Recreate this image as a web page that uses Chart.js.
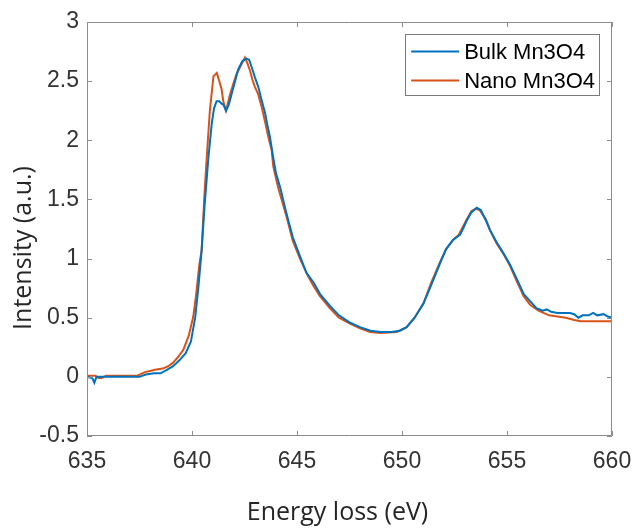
<!DOCTYPE html>
<html>
<head>
<meta charset="utf-8">
<script src="https://cdn.jsdelivr.net/npm/chart.js@4.4.1/dist/chart.umd.min.js"></script>
<style>
    html, body { margin: 0; padding: 0; background: #fff; }
    #wrap { width: 633px; height: 531px; position: relative; }
</style>
</head>
<body>
<div id="wrap"><canvas id="eelsChart"></canvas></div>
<script>
// Energy loss (eV) and intensity (a.u.)
const bulkEnergy = [635, 635.25, 635.35, 635.45, 636, 637, 637.5, 637.8, 638.2, 638.5, 638.8, 639.1, 639.4, 639.7, 639.95,
    640.15, 640.3, 640.45, 640.6, 640.78, 640.94, 641.05, 641.17, 641.3, 641.41, 641.5, 641.62, 641.75, 641.9, 642.05,
    642.2, 642.4, 642.6, 642.72, 642.84, 643.0, 643.16, 643.3, 643.48, 643.6, 643.71, 643.87, 644.0, 644.2, 644.5,
    644.8, 645.14, 645.45, 645.78, 646.1, 646.57, 647.0, 647.5, 648.0, 648.5, 649.0, 649.5, 649.9, 650.22, 650.6,
    651.02, 651.4, 651.81, 652.1, 652.44, 652.76, 652.9, 653.08, 653.3, 653.56, 653.75, 654.0, 654.19, 654.5, 654.83,
    655.14, 655.46, 655.8, 656.1, 656.4, 656.7, 656.9, 657.1, 657.4, 657.7, 658.0, 658.2, 658.4, 658.6, 658.9,
    659.1, 659.3, 659.6, 659.8, 660];
const bulkIntensity = [0, -0.01, -0.05, 0, 0, 0, 0, 0.02, 0.03, 0.03, 0.06, 0.09, 0.14, 0.2, 0.3,
    0.5, 0.75, 1.05, 1.45, 1.85, 2.14, 2.27, 2.33, 2.33, 2.31, 2.3, 2.25, 2.3, 2.4, 2.5,
    2.6, 2.67, 2.69, 2.68, 2.62, 2.53, 2.45, 2.35, 2.23, 2.12, 2.03, 1.85, 1.72, 1.6, 1.38,
    1.18, 1.02, 0.88, 0.8, 0.7, 0.6, 0.52, 0.46, 0.42, 0.39, 0.38, 0.38, 0.39, 0.42, 0.5,
    0.62, 0.78, 0.96, 1.08, 1.16, 1.2, 1.25, 1.32, 1.39, 1.43, 1.41, 1.32, 1.24, 1.14, 1.045,
    0.95, 0.83, 0.7, 0.64, 0.58, 0.56, 0.57, 0.55, 0.54, 0.54, 0.54, 0.53, 0.5, 0.52, 0.52,
    0.54, 0.52, 0.53, 0.51, 0.5];

const nanoEnergy = [635, 635.4, 635.55, 635.7, 635.9, 636.5, 637.4, 637.76, 638.0, 638.24, 638.6, 638.87, 639.1, 639.35, 639.59,
    639.85, 640.06, 640.2, 640.35, 640.46, 640.58, 640.7, 640.85, 641.02, 641.18, 641.3, 641.41, 641.49, 641.62, 641.8,
    641.97, 642.1, 642.29, 642.52, 642.64, 642.76, 642.88, 643.0, 643.15, 643.32, 643.5, 643.63, 643.79, 643.87, 644.1,
    644.51, 644.8, 645.14, 645.5, 645.78, 646.1, 646.57, 647.0, 647.52, 648.0, 648.48, 649.0, 649.75, 650.22, 650.6,
    651.02, 651.4, 651.81, 652.1, 652.44, 652.7, 652.9, 653.08, 653.3, 653.5, 653.7, 654.0, 654.19, 654.5, 654.83,
    655.14, 655.46, 655.8, 656.1, 656.5, 657.0, 657.4, 657.8, 658.2, 658.5, 659, 660];
const nanoIntensity = [0.01, 0.01, -0.01, -0.01, 0.01, 0.01, 0.01, 0.04, 0.05, 0.06, 0.07, 0.09, 0.12, 0.17, 0.23,
    0.35, 0.51, 0.7, 0.95, 1.07, 1.5, 1.85, 2.25, 2.54, 2.57, 2.5, 2.43, 2.33, 2.25, 2.38,
    2.48, 2.55, 2.62, 2.7, 2.65, 2.59, 2.51, 2.45, 2.39, 2.28, 2.14, 2.03, 1.92, 1.78, 1.6,
    1.35, 1.15, 1.0, 0.86, 0.77, 0.68, 0.58, 0.5, 0.45, 0.41, 0.38, 0.37, 0.38, 0.42, 0.5,
    0.62, 0.8, 0.97, 1.08, 1.16, 1.2, 1.27, 1.33, 1.4, 1.42, 1.41, 1.33, 1.24, 1.13, 1.04,
    0.94, 0.81, 0.68, 0.61, 0.56, 0.52, 0.51, 0.5, 0.48, 0.47, 0.47, 0.47];

const seriesLabels = ['Bulk Mn3O4', 'Nano Mn3O4'];
const xTicks = [635, 640, 645, 650, 655, 660];
const yTicks = [-0.5, 0, 0.5, 1, 1.5, 2, 2.5, 3];

function toPoints(xs, ys) {
    return xs.map(function(x, i) { return { x: x, y: ys[i] }; });
}

const axisGray = '#8c8c8c';
const tickFont = { family: 'Liberation Sans, Arial, sans-serif', size: 23 };

// MATLAB style box with inward ticks on all four sides, plus axis titles
const boxPlugin = {
    id: 'matlabBox',
    afterDatasetsDraw: function(chart) {
        const ctx = chart.ctx, a = chart.chartArea;
        const xs = chart.scales.x, ys = chart.scales.y;
        const len = 5;
        ctx.save();
        ctx.strokeStyle = axisGray;
        ctx.lineWidth = 1;
        ctx.beginPath();
        ctx.rect(a.left + 0.5, a.top + 0.5, a.right - a.left - 1, a.bottom - a.top - 1);
        xTicks.forEach(function(v) {
            const px = Math.round(xs.getPixelForValue(v)) + 0.5;
            ctx.moveTo(px, a.bottom); ctx.lineTo(px, a.bottom - len);
            ctx.moveTo(px, a.top); ctx.lineTo(px, a.top + len);
        });
        yTicks.forEach(function(v) {
            const py = Math.round(ys.getPixelForValue(v)) + 0.5;
            ctx.moveTo(a.left, py); ctx.lineTo(a.left + len, py);
            ctx.moveTo(a.right, py); ctx.lineTo(a.right - len, py);
        });
        ctx.stroke();

        // axis titles
        ctx.fillStyle = '#262626';
        ctx.font = '25px "Open Sans", sans-serif';
        ctx.textAlign = 'center';
        ctx.textBaseline = 'middle';
        ctx.fillText('Energy loss (eV)', a.left + (a.right - a.left) / 2 - 12, 513);
        ctx.translate(24, a.top + (a.bottom - a.top) / 2 + 19);
        ctx.rotate(-Math.PI / 2);
        ctx.fillText('Intensity (a.u.)', 0, 0);
        ctx.restore();
    }
};

// legend box in the upper right corner of the axes
const legendPlugin = {
    id: 'boxLegend',
    afterDraw: function(chart) {
        const ctx = chart.ctx, a = chart.chartArea;
        ctx.save();
        ctx.font = '22px "Liberation Sans", Arial, sans-serif';
        const textW = Math.max.apply(null, chart.data.datasets.map(function(d) { return ctx.measureText(d.label).width; }));
        const lineLen = 48, padL = 6, gap = 5, padR = 4, rowH = 29;
        const w = padL + lineLen + gap + textW + padR;
        const h = 61;
        const right = a.right - 13, top = a.top + 12;
        const left = right - w;
        ctx.fillStyle = '#fff';
        ctx.fillRect(left, top, w, h);
        ctx.strokeStyle = '#7a7a7a';
        ctx.lineWidth = 1;
        ctx.strokeRect(Math.round(left) + 0.5, top + 0.5, Math.round(w), h);
        ctx.textBaseline = 'middle';
        ctx.textAlign = 'left';
        chart.data.datasets.forEach(function(d, i) {
            const cy = top + 17.5 + i * rowH;
            ctx.strokeStyle = d.borderColor;
            ctx.lineWidth = 2;
            ctx.beginPath();
            ctx.moveTo(left + padL, cy);
            ctx.lineTo(left + padL + lineLen, cy);
            ctx.stroke();
            ctx.fillStyle = '#000';
            ctx.fillText(d.label, left + padL + lineLen + gap, cy + 1);
        });
        ctx.restore();
    }
};

var ctx = document.getElementById('eelsChart').getContext('2d');
new Chart(ctx, {
    type: 'line',
    data: {
        datasets: [{
            label: seriesLabels[0],
            data: toPoints(bulkEnergy, bulkIntensity),
            borderColor: '#0072BD',
            borderWidth: 2,
            pointRadius: 0,
            tension: 0,
            fill: false
        }, {
            label: seriesLabels[1],
            data: toPoints(nanoEnergy, nanoIntensity),
            borderColor: '#D95319',
            borderWidth: 2,
            pointRadius: 0,
            tension: 0,
            fill: false
        }]
    },
    options: {
        responsive: true,
        maintainAspectRatio: false,
        animation: false,
        layout: { padding: { left: 0, top: 22, right: 21, bottom: 0 } },
        scales: {
            x: {
                type: 'linear',
                min: 635,
                max: 660,
                afterBuildTicks: function(scale) { scale.ticks = xTicks.map(function(v) { return { value: v }; }); },
                afterFit: function(scale) {
                    scale.height = 95;
                    scale.paddingLeft = 0;
                    scale.paddingRight = 0;
                },
                ticks: { font: tickFont, color: '#333', padding: 12, maxRotation: 0 },
                grid: { display: false, drawTicks: false },
                border: { display: false }
            },
            y: {
                min: -0.5,
                max: 3,
                afterBuildTicks: function(scale) { scale.ticks = yTicks.map(function(v) { return { value: v }; }); },
                afterFit: function(scale) {
                    scale.width = 87;
                    scale.paddingTop = 0;
                    scale.paddingBottom = 0;
                },
                ticks: {
                    font: tickFont,
                    color: '#333',
                    padding: 8,
                    callback: function(value) { return String(value); }
                },
                grid: { display: false, drawTicks: false },
                border: { display: false }
            }
        },
        plugins: {
            legend: { display: false },
            tooltip: { enabled: false }
        }
    },
    plugins: [boxPlugin, legendPlugin]
});
</script>
</body>
</html>
